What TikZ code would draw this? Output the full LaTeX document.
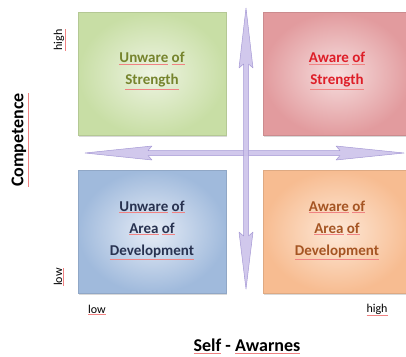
\documentclass[tikz,border=0pt]{standalone}
\usepackage{fontspec}
\setmainfont{Carlito}
\usetikzlibrary{shadows}
\definecolor{gEdge}{RGB}{200,222,165}
\definecolor{gIn}{RGB}{238,244,226}
\definecolor{rEdge}{RGB}{226,155,158}
\definecolor{rIn}{RGB}{246,222,222}
\definecolor{bEdge}{RGB}{160,186,220}
\definecolor{bIn}{RGB}{230,236,246}
\definecolor{oEdge}{RGB}{247,188,145}
\definecolor{oIn}{RGB}{253,232,215}
\definecolor{gTxt}{RGB}{118,132,45}
\definecolor{rTxt}{RGB}{222,30,40}
\definecolor{bTxt}{RGB}{40,50,80}
\definecolor{oTxt}{RGB}{165,85,35}
\definecolor{arrFill}{RGB}{204,194,234}
\definecolor{arrLine}{RGB}{165,152,212}
\definecolor{squig}{RGB}{240,130,130}
\newcommand\sq[2]{{\color{squig}\underline{\textcolor{#1}{#2}}}}
\begin{document}
\begin{tikzpicture}[x=1pt,y=-1pt,
  quad/.style={minimum width=148pt,minimum height=123pt,inner sep=0pt,
    draw=#1Edge!90!black,line width=0.4pt,inner color=#1In,outer color=#1Edge,
    drop shadow={shadow xshift=1pt,shadow yshift=-1.5pt,opacity=0.3}},
  qtext/.style={font=\fontsize{15}{22}\selectfont\bfseries,align=center},
  axlab/.style={font=\fontsize{12}{14}\selectfont},
  axtitle/.style={font=\fontsize{18}{20}\selectfont\bfseries},
  arrow shape/.style={fill=arrFill,draw=arrLine,line width=0.5pt,line join=round,fill opacity=0.9}]
\useasboundingbox (0,0) rectangle (406,356);
\begin{scope}
\clip (0,0) rectangle (406,356);
\node[quad=g] (ul) at (152,74) {};
\node[quad=r] (ur) at (337,74) {};
\node[quad=b] (ll) at (152,231.5) {};
\node[quad=o] (lr) at (337,231.5) {};
\end{scope}
\node[qtext] (ult) at (152,71) {\sq{gTxt}{Unware} \sq{gTxt}{of}\\\sq{gTxt}{Strength}};
\node[qtext] (urt) at (337,71) {\sq{rTxt}{Aware} \sq{rTxt}{of}\\\sq{rTxt}{Strength}};
\node[qtext] (llt) at (152,230) {\sq{bTxt}{Unware} \sq{bTxt}{of}\\\sq{bTxt}{Area} \sq{bTxt}{of}\\\sq{bTxt}{Development}};
\node[qtext] (lrt) at (337,230) {\sq{oTxt}{Aware} \sq{oTxt}{of}\\\sq{oTxt}{Area} \sq{oTxt}{of}\\\sq{oTxt}{Development}};
% horizontal arrow
\draw[arrow shape] (85,153) -- (152,146) -- (148,150.5) -- (340,150.5) -- (336,146) -- (404,153)
  -- (336,160) -- (340,155.5) -- (148,155.5) -- (152,160) -- cycle;
% vertical arrow
\draw[arrow shape] (246,8) -- (253,68) -- (248.5,64) -- (248.5,236) -- (253,232) -- (246,289)
  -- (239,232) -- (243.5,236) -- (243.5,64) -- (239,68) -- cycle;
% axis labels
\node[axlab,rotate=90] (yhigh) at (60,40) {\sq{black}{high}};
\node[axlab,rotate=90] (ylow) at (59,277) {\sq{black}{low}};
\node[axlab] (xlow) at (97,310) {\sq{black}{low}};
\node[axlab] (xhigh) at (377,310) {\sq{black}{high}};
\node[axtitle,rotate=90] (ytitle) at (20,140) {\sq{black}{Competence}};
\node[axtitle] (xtitle) at (247,346) {\sq{black}{Self} - \sq{black}{Awarnes}};
\end{tikzpicture}
\end{document}
